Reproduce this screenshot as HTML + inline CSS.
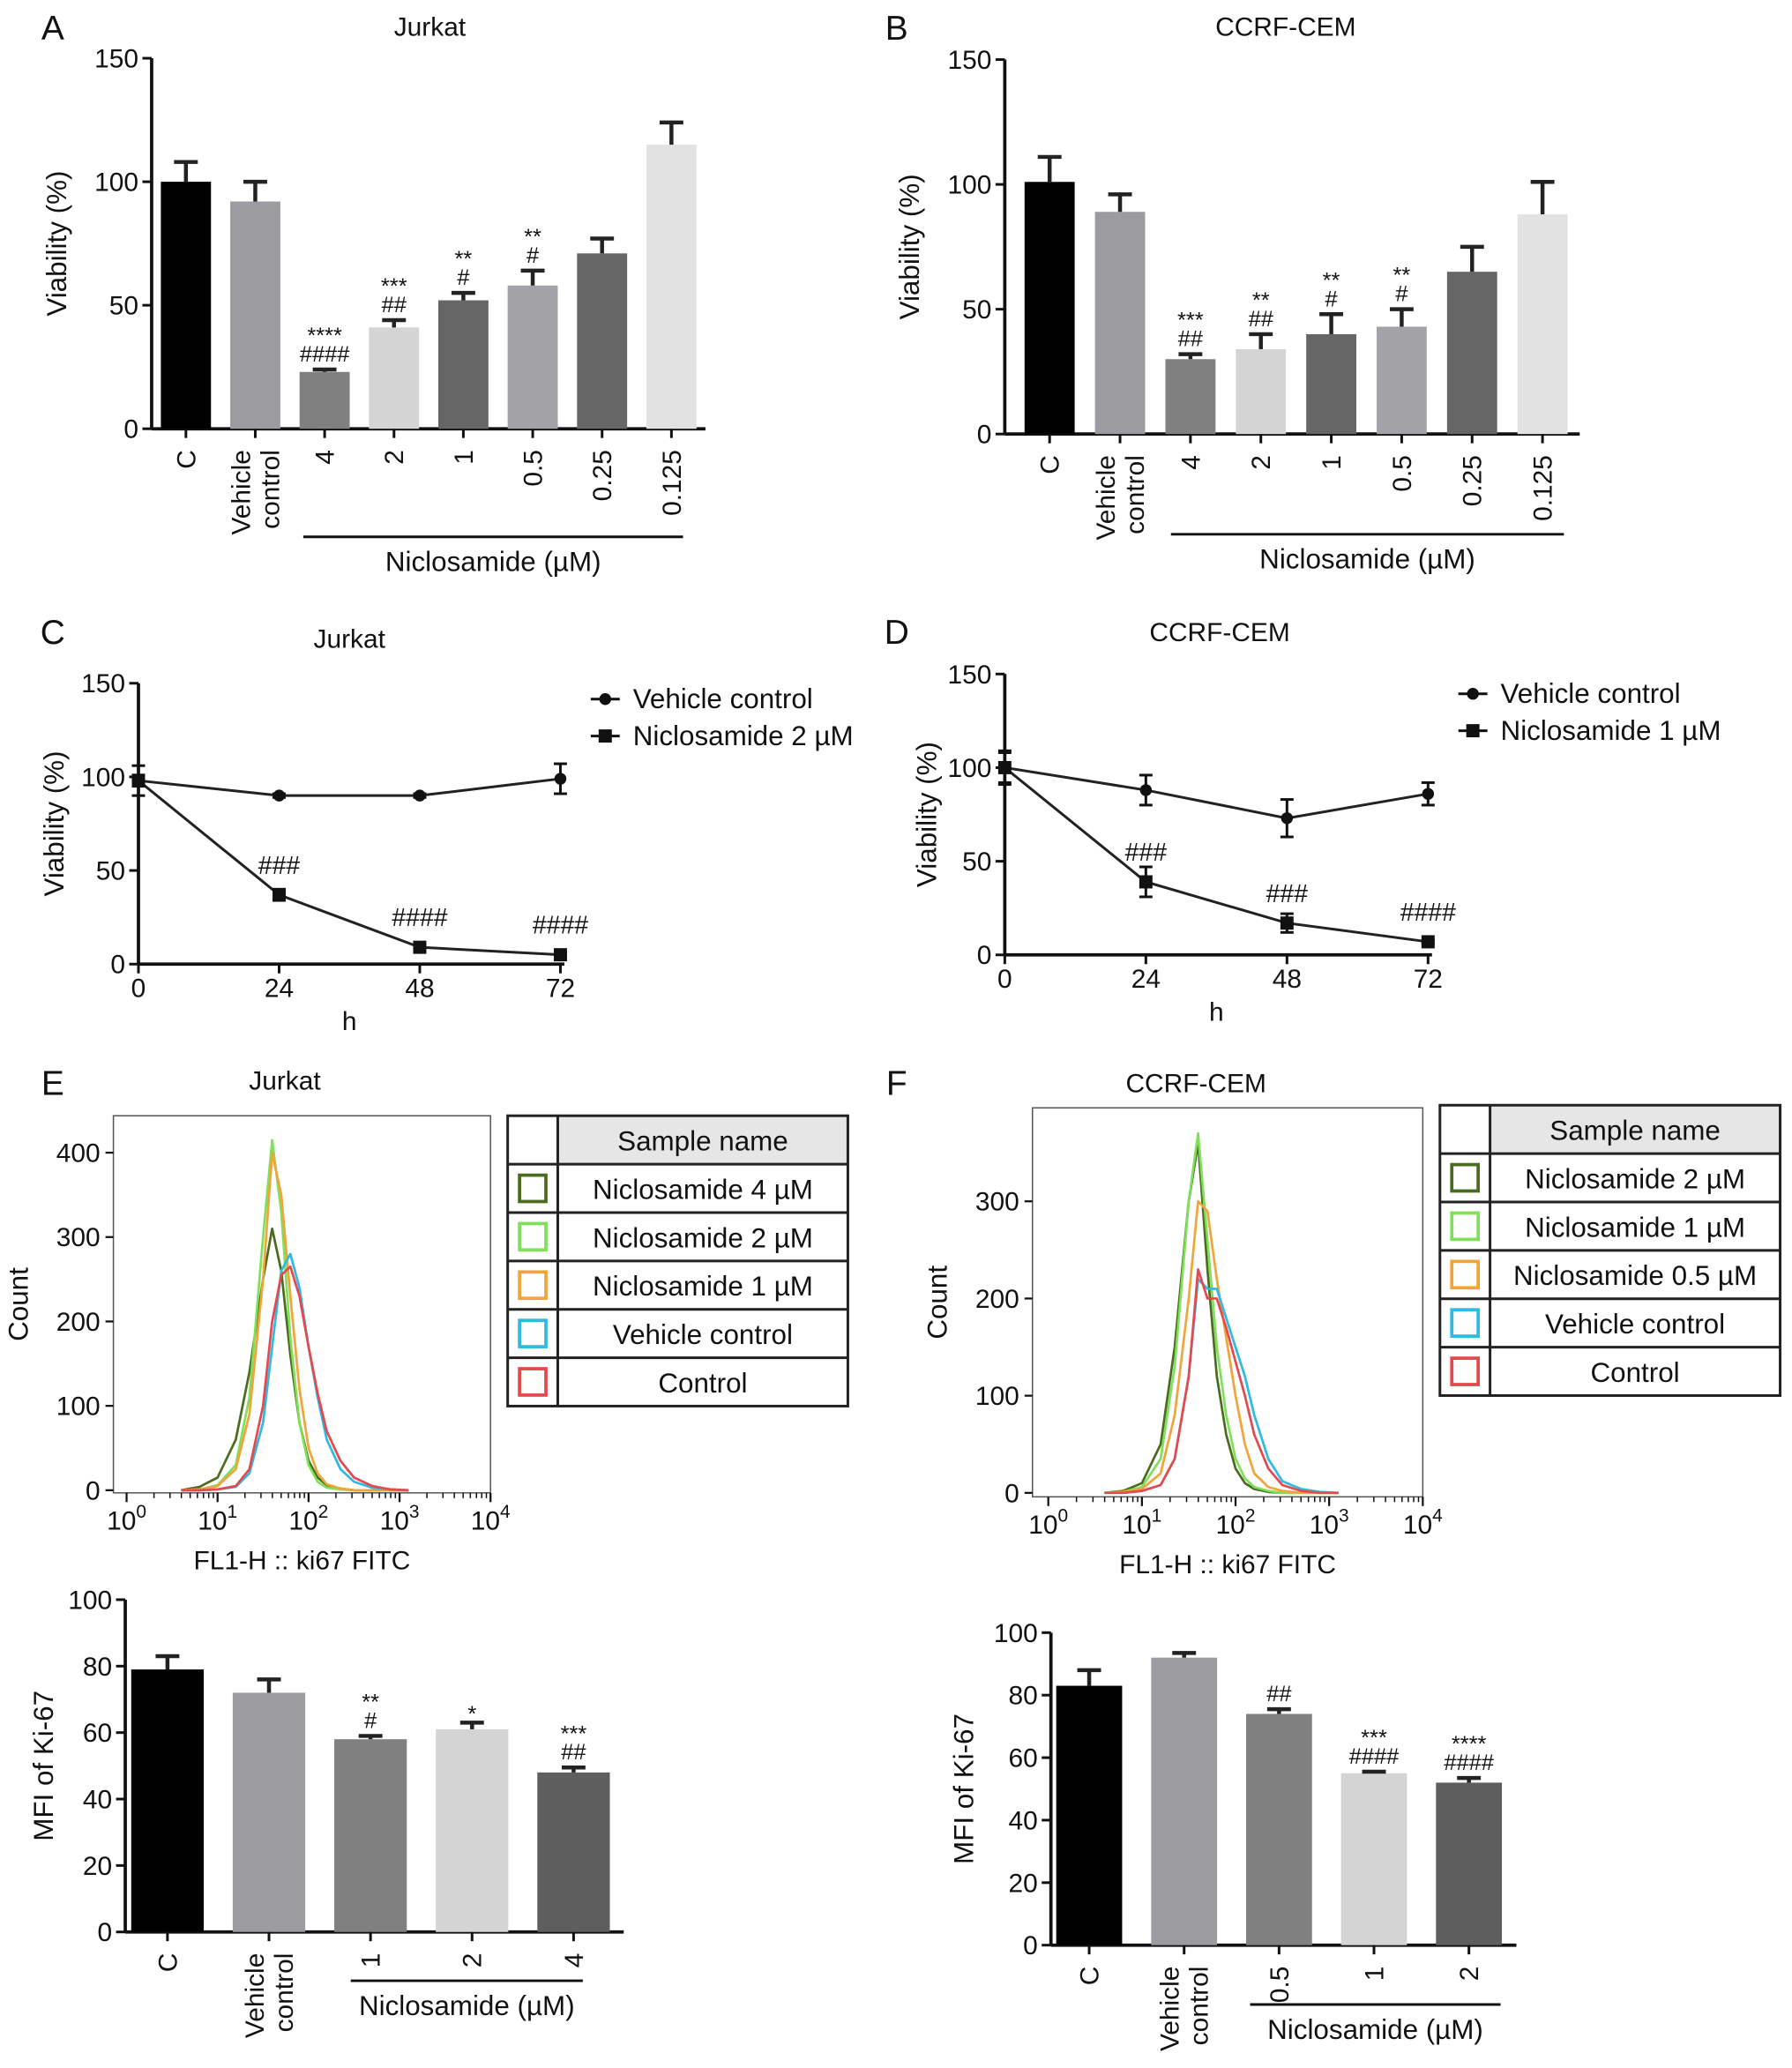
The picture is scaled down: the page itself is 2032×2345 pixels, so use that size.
<!DOCTYPE html>
<html><head><meta charset="utf-8"><style>
html,body{margin:0;padding:0;background:#fff}
svg{display:block}
text{font-family:"Liberation Sans",sans-serif;fill:#111}
</style></head><body>
<svg id="fig" width="2032" height="2345" viewBox="0 0 1359 1568" xmlns="http://www.w3.org/2000/svg"></svg>
<script>
// ---- Data ----
const barCatsAB = ["C","Vehicle|control","4","2","1","0.5","0.25","0.125"];
const barValsA = [100,92,23,41,52,58,71,115];
const barErrA = [8,8,1,3,3,6,6,9];
const barSigA = [[],[],["****","####"],["***","##"],["**","#"],["**","#"],[],[]];
const barValsB = [101,89,30,34,40,43,65,88];
const barErrB = [10,7,2,6,8,7,10,13];
const barSigB = [[],[],["***","##"],["**","##"],["**","#"],["**","#"],[],[]];
const yTicks150 = [0,50,100,150];
const timeX = [0,24,48,72];
const vehC = [98,90,90,99], vehCErr=[8,1,1,8];
const nicC = [98,37,9,5], nicCErr=[3,3,1,1];
const sigC = ["","###","####","####"];
const vehD = [100,88,73,86], vehDErr=[9,8,10,6];
const nicD = [100,39,17,7], nicDErr=[8,8,5,1];
const sigD = ["","###","###","####"];
const histX = [0.6,0.8,1.0,1.2,1.35,1.5,1.6,1.7,1.8,1.9,2.0,2.1,2.2,2.35,2.5,2.7,2.9,3.1];
const histE = [
 [0,4,15,60,140,250,310,260,160,80,35,15,6,2,0,0,0,0],
 [0,1,6,30,110,300,415,330,180,80,30,10,3,1,0,0,0,0],
 [0,1,5,25,90,250,400,350,230,120,50,20,7,2,0,0,0,0],
 [0,0,1,4,20,80,170,260,280,240,170,110,60,25,10,3,1,0],
 [0,0,1,5,25,100,200,255,265,230,170,115,70,35,15,5,1,0]
];
const histF = [
 [0,2,10,50,150,300,360,230,120,60,25,10,4,1,0,0,0,0],
 [0,1,6,35,130,300,370,260,150,80,35,15,6,2,0,0,0,0],
 [0,1,4,20,80,200,300,290,220,160,100,50,20,6,2,0,0,0],
 [0,0,2,8,35,120,220,210,210,180,150,120,80,35,12,4,1,0],
 [0,0,2,8,35,120,230,200,200,170,135,100,60,25,8,2,0,0]
];
const histColors = ["#4b6b1e","#7fe05a","#f2a43a","#2fb9e3","#e5484d"];
const legE = ["Niclosamide 4 µM","Niclosamide 2 µM","Niclosamide 1 µM","Vehicle control","Control"];
const legF = ["Niclosamide 2 µM","Niclosamide 1 µM","Niclosamide 0.5 µM","Vehicle control","Control"];
const mfiCatsE = ["C","Vehicle|control","1","2","4"];
const mfiValsE = [79,72,58,61,48], mfiErrE=[4,4,1,2,1.5];
const mfiSigE = [[],[],["**","#"],["*"],["***","##"]];
const mfiCatsF = ["C","Vehicle|control","0.5","1","2"];
const mfiValsF = [83,92,74,55,52], mfiErrF=[5,1.5,1.5,0.5,1.5];
const mfiSigF = [[],[],["##"],["***","####"],["****","####"]];
const yTicks100 = [0,20,40,60,80,100];

const svg=document.getElementById('fig');
const NS="http://www.w3.org/2000/svg";
function el(tag,attrs,parent,txt){const e=document.createElementNS(NS,tag);for(const k in attrs)e.setAttribute(k,attrs[k]);if(txt!==undefined)e.textContent=txt;(parent||svg).appendChild(e);return e;}
function grp(name){const g=el('g',{});return g;}
function txt(g,x,y,s,size,anchor,extra){const t=el('text',Object.assign({x:x,y:y,'font-size':size,'text-anchor':anchor||'middle'},extra||{}),g,s);return t;}

function yAxis(g,x,y0,ymax,vmax,ticks,label,lx){
  el('line',{x1:x,y1:y0,x2:x,y2:ymax,stroke:'#111','stroke-width':2.5},g);
  ticks.forEach(v=>{const y=y0-(y0-ymax)*v/vmax;el('line',{x1:x-7,y1:y,x2:x,y2:y,stroke:'#111','stroke-width':2},g);txt(g,x-10,y+7,String(v),20,'end');});
  const t=txt(g,lx,(y0+ymax)/2,label,21,'middle',{transform:`rotate(-90 ${lx} ${(y0+ymax)/2})`});
  
}

function barChart(name,o){
  const g=grp(name);
  const sy=v=>o.y0-(o.y0-o.ymax)*v/o.vmax;
  yAxis(g,o.ax,o.y0,o.ymax,o.vmax,o.ticks,o.ylabel,o.lx);
  el('line',{x1:o.ax,y1:o.y0,x2:o.axEnd,y2:o.y0,stroke:'#111','stroke-width':2.5},g);
  o.vals.forEach((v,i)=>{
    const cx=o.x0+i*o.dx, w=o.bw;
    const r=el('rect',{x:cx-w/2,y:sy(v),width:w,height:o.y0-sy(v),fill:o.colors[i]},g);
    
    const ye=sy(v+o.err[i]);
    el('line',{x1:cx,y1:sy(v),x2:cx,y2:ye,stroke:'#222','stroke-width':3},g);
    el('line',{x1:cx-9,y1:ye,x2:cx+9,y2:ye,stroke:'#222','stroke-width':3},g);
    el('line',{x1:cx,y1:o.y0,x2:cx,y2:o.y0+7,stroke:'#111','stroke-width':2},g);
    const s=o.sig[i];
    s.forEach((t,k)=>txt(g,cx,ye-6-(s.length-1-k)*19+ (t.indexOf('*')>=0?5:0),t,17));
    const parts=o.cats[i].split('|');
    parts.forEach((p,k)=>{const lxp=cx+7+(k-(parts.length-1)/2)*22, ly=o.y0+16;
      txt(g,lxp,ly,p,20,'end',{transform:`rotate(-90 ${lxp} ${ly})`});});
  });
  el('line',{x1:o.lineX1,y1:o.lineY,x2:o.lineX2,y2:o.lineY,stroke:'#111','stroke-width':2},g);
  txt(g,(o.lineX1+o.lineX2)/2,o.lineY+26,'Niclosamide (µM)',21);
  if(o.title)txt(g,o.tx,o.ty,o.title,20);
}

function lineChart(name,o){
  const g=grp(name);
  const sy=v=>o.y0-(o.y0-o.ymax)*v/150, sx=t=>o.x0+(o.x72-o.x0)*t/72;
  yAxis(g,o.x0,o.y0,o.ymax,150,yTicks150,'Viability (%)',o.lx);
  el('line',{x1:o.x0,y1:o.y0,x2:o.x72+3,y2:o.y0,stroke:'#111','stroke-width':2.5},g);
  timeX.forEach(t=>{el('line',{x1:sx(t),y1:o.y0,x2:sx(t),y2:o.y0+7,stroke:'#111','stroke-width':2},g);txt(g,sx(t),o.y0+25,String(t),20);});
  txt(g,(o.x0+o.x72)/2,o.y0+50,'h',20);
  [[o.veh,o.vehErr,'circle'],[o.nic,o.nicErr,'square']].forEach(([vals,err,m])=>{
    const pts=vals.map((v,i)=>sx(timeX[i])+','+sy(v)).join(' ');
    const pl=el('polyline',{points:pts,fill:'none',stroke:'#222','stroke-width':2},g);
    
    vals.forEach((v,i)=>{const x=sx(timeX[i]),y=sy(v);
      el('line',{x1:x,y1:sy(v-err[i]),x2:x,y2:sy(v+err[i]),stroke:'#111','stroke-width':2},g);
      el('line',{x1:x-5,y1:sy(v-err[i]),x2:x+5,y2:sy(v-err[i]),stroke:'#111','stroke-width':2},g);
      el('line',{x1:x-5,y1:sy(v+err[i]),x2:x+5,y2:sy(v+err[i]),stroke:'#111','stroke-width':2},g);
      if(m==='circle')el('circle',{cx:x,cy:y,r:4.5,fill:'#111'},g);else el('rect',{x:x-5,y:y-5,width:10,height:10,fill:'#111'},g);
    });
  });
  o.sig.forEach((s,i)=>{if(s)txt(g,sx(timeX[i]),sy(o.nic[i])-16,s,19);});
  txt(g,o.tx,o.ty,o.title,20);
  const lg=grp('legend');g.appendChild(lg);
  el('line',{x1:o.legX,y1:o.legY,x2:o.legX+22,y2:o.legY,stroke:'#111','stroke-width':2},lg);
  el('circle',{cx:o.legX+11,cy:o.legY,r:4.5,fill:'#111'},lg);
  txt(lg,o.legX+32,o.legY+7,'Vehicle control',21,'start');
  el('line',{x1:o.legX,y1:o.legY+28,x2:o.legX+22,y2:o.legY+28,stroke:'#111','stroke-width':2},lg);
  el('rect',{x:o.legX+6,y:o.legY+23,width:10,height:10,fill:'#111'},lg);
  txt(lg,o.legX+32,o.legY+35,o.nicLabel,21,'start');
}

function hist(name,o){
  const g=grp(name);
  el('rect',{x:o.bx1,y:o.by1,width:o.bx2-o.bx1,height:o.by2-o.by1,fill:'none',stroke:'#555','stroke-width':1},g);
  const sx=l=>o.lx0+(o.lx4-o.lx0)*l/4, sy=c=>o.y0-c*o.ppu;
  o.ticks.forEach(v=>{el('line',{x1:o.bx1-6,y1:sy(v),x2:o.bx1,y2:sy(v),stroke:'#111','stroke-width':1.5},g);txt(g,o.bx1-10,sy(v)+7,String(v),20,'end');});
  for(let d=0;d<=4;d++){const x=sx(d);el('line',{x1:x,y1:o.by2,x2:x,y2:o.by2+7,stroke:'#111','stroke-width':1.5},g);
    if(d<4)for(let m=2;m<10;m++){const xm=sx(d+Math.log10(m));el('line',{x1:xm,y1:o.by2,x2:xm,y2:o.by2+4,stroke:'#111','stroke-width':1},g);}
    const t=txt(g,x,o.by2+28,'10',20);el('tspan',{dy:-9,'font-size':14},t,String(d));}
  txt(g,(o.bx1+o.bx2)/2,o.by2+58,'FL1-H :: ki67 FITC',20);
  const yl=o.bx1-65,ym=(o.by1+o.by2)/2;txt(g,yl,ym,'Count',21,'middle',{transform:`rotate(-90 ${yl} ${ym})`});
  o.data.forEach((arr,i)=>{const pts=arr.map((c,k)=>sx(histX[k])+','+sy(c)).join(' ');
    const p=el('polyline',{points:pts,fill:'none',stroke:histColors[i],'stroke-width':1.8,'stroke-linejoin':'round'},g);
    });
  txt(g,o.tx,o.ty,o.title,20);
  const lg=grp('legend-table');g.appendChild(lg);
  const rh=o.rowH;
  el('rect',{x:o.lgx+38,y:o.lgy,width:o.lgw-38,height:rh,fill:'#e6e6e6'},lg);
  el('rect',{x:o.lgx,y:o.lgy,width:o.lgw,height:rh*6,fill:'none',stroke:'#222','stroke-width':2},lg);
  el('line',{x1:o.lgx+38,y1:o.lgy,x2:o.lgx+38,y2:o.lgy+rh*6,stroke:'#222','stroke-width':2},lg);
  txt(lg,o.lgx+38+(o.lgw-38)/2,o.lgy+rh/2+8,'Sample name',21);
  o.labels.forEach((s,i)=>{const y=o.lgy+rh*(i+1);
    el('line',{x1:o.lgx,y1:y,x2:o.lgx+o.lgw,y2:y,stroke:'#222','stroke-width':2},lg);
    el('rect',{x:o.lgx+9,y:y+rh/2-10,width:20,height:20,fill:'none',stroke:histColors[i],'stroke-width':2.5},lg);
    txt(lg,o.lgx+38+(o.lgw-38)/2,y+rh/2+8,s,21);});
}

[["A",40,30],["B",680,30],["C",40,488],["D",680,488],["E",40,830],["F",680,830]].forEach(([s,x,y])=>{const t=txt(svg,x,y,s,26);});

const colsAB=["#000","#9b9ba0","#808080","#d4d4d4","#666","#a2a2a7","#666","#e2e2e2"];
barChart('chart-a',{ax:115,axEnd:535,y0:325,ymax:44,vmax:150,ticks:yTicks150,ylabel:'Viability (%)',lx:50,x0:141,dx:52.6,bw:38,vals:barValsA,err:barErrA,sig:barSigA,cats:barCatsAB,colors:colsAB,lineX1:230,lineX2:518,lineY:407,title:'Jurkat',tx:326,ty:27});
barChart('chart-b',{ax:762,axEnd:1198,y0:329,ymax:45,vmax:150,ticks:yTicks150,ylabel:'Viability (%)',lx:697,x0:796,dx:53.4,bw:38,vals:barValsB,err:barErrB,sig:barSigB,cats:barCatsAB,colors:colsAB,lineX1:888,lineX2:1186,lineY:405,title:'CCRF-CEM',tx:975,ty:27});
lineChart('chart-c',{x0:105,x72:425,y0:731,ymax:518,lx:48,veh:vehC,vehErr:vehCErr,nic:nicC,nicErr:nicCErr,sig:sigC,title:'Jurkat',tx:265,ty:491,legX:448,legY:530,nicLabel:'Niclosamide 2 µM'});
lineChart('chart-d',{x0:762,x72:1083,y0:724,ymax:511,lx:710,veh:vehD,vehErr:vehDErr,nic:nicD,nicErr:nicDErr,sig:sigD,title:'CCRF-CEM',tx:925,ty:486,legX:1106,legY:526,nicLabel:'Niclosamide 1 µM'});
hist('chart-e',{bx1:86,bx2:372,by1:846,by2:1132,lx0:96,lx4:372,y0:1130,ppu:0.64,ticks:[0,100,200,300,400],data:histE,title:'Jurkat',tx:216,ty:826,lgx:385,lgy:846,lgw:258,rowH:36.7,labels:legE});
hist('chart-f',{bx1:783,bx2:1079,by1:840,by2:1135,lx0:795,lx4:1079,y0:1132,ppu:0.737,ticks:[0,100,200,300],data:histF,title:'CCRF-CEM',tx:907,ty:828,lgx:1092,lgy:838,lgw:258,rowH:36.7,labels:legF});
const colsM=["#000","#9b9ba0","#808080","#d4d4d4","#5e5e5e"];
barChart('chart-e-mfi',{ax:95,axEnd:473,y0:1465,ymax:1213,vmax:100,ticks:yTicks100,ylabel:'MFI of Ki-67',lx:40,x0:127,dx:77,bw:55,vals:mfiValsE,err:mfiErrE,sig:mfiSigE,cats:mfiCatsE,colors:colsM,lineX1:266,lineX2:442,lineY:1502});
barChart('chart-f-mfi',{ax:797,axEnd:1150,y0:1475,ymax:1238,vmax:100,ticks:yTicks100,ylabel:'MFI of Ki-67',lx:738,x0:826,dx:72,bw:50,vals:mfiValsF,err:mfiErrF,sig:mfiSigF,cats:mfiCatsF,colors:colsM,lineX1:948,lineX2:1138,lineY:1520});
</script>
</body></html>
